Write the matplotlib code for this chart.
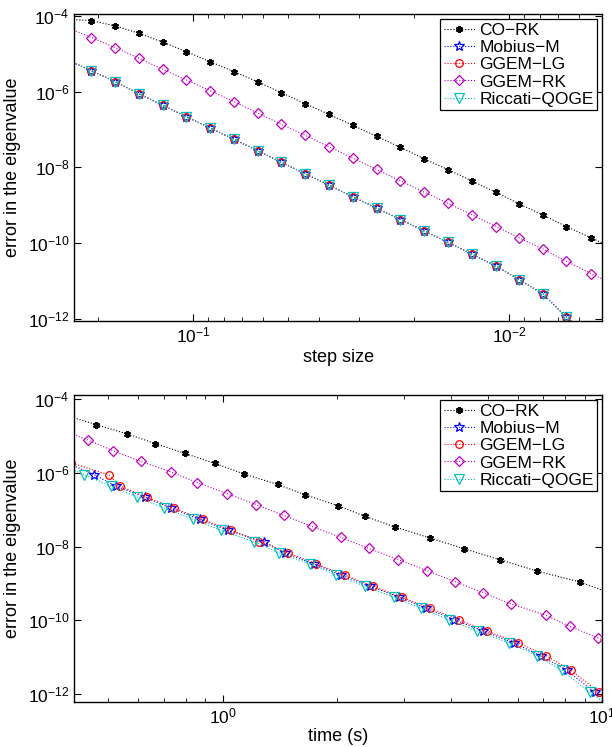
import numpy as np
import matplotlib.pyplot as plt
from matplotlib.ticker import LogLocator, LogFormatterSciNotation, NullLocator

plt.rcParams['font.family'] = ['Liberation Sans', 'DejaVu Sans']
plt.rcParams['mathtext.fontset'] = 'custom'
plt.rcParams['mathtext.rm'] = 'Liberation Sans'
plt.rcParams['mathtext.default'] = 'regular'

# step sizes (top panel), the first and last ones fall just outside the axes
step = [0.2500, 0.2102, 0.1768, 0.1487, 0.1250, 0.1051, 0.0884, 0.0743,
        0.0625, 0.0526, 0.0442, 0.0372, 0.03125, 0.0263, 0.0221, 0.0186,
        0.0156, 0.0131, 0.0110, 0.0093, 0.0078, 0.0066, 0.0055, 0.0046]

# errors in the eigenvalue
err_cork = [8.1e-5, 7.55e-5, 5.47e-5, 3.51e-5, 2.03e-5, 1.14e-5, 6.22e-6, 3.38e-6,
            1.81e-6, 9.4e-7, 4.82e-7, 2.52e-7, 1.29e-7, 6.6e-8, 3.38e-8, 1.69e-8,
            8.65e-9, 4.35e-9, 2.18e-9, 1.09e-9, 5.47e-10, 2.75e-10, 1.37e-10, 6.9e-11]
err_ggemrk = [4.9e-5, 2.69e-5, 1.46e-5, 7.66e-6, 3.92e-6, 2.04e-6, 1.06e-6, 5.43e-7,
              2.73e-7, 1.37e-7, 7.03e-8, 3.51e-8, 1.76e-8, 8.85e-9, 4.42e-9, 2.22e-9,
              1.12e-9, 5.57e-10, 2.75e-10, 1.37e-10, 6.9e-11, 3.32e-11, 1.57e-11, 7.6e-12]
# Mobius-M, GGEM-LG and Riccati-QOGE give (visually) the same errors
err_qoge = [6.8e-6, 3.60e-6, 1.84e-6, 8.85e-7, 4.37e-7, 2.18e-7, 1.10e-7, 5.51e-8,
            2.75e-8, 1.36e-8, 6.77e-9, 3.40e-9, 1.67e-9, 8.38e-10, 4.21e-10, 2.10e-10,
            1.04e-10, 5.08e-11, 2.45e-11, 1.09e-11, 4.45e-12, 1.12e-12, 3e-13, 1e-13]

# cpu times (bottom panel)
t_cork = [0.235, 0.28, 0.33, 0.39, 0.465, 0.560, 0.665, 0.794, 0.953, 1.136, 1.396, 1.652,
          2.010, 2.373, 2.852, 3.527, 4.336, 5.395, 6.713, 8.73, 10.5, 12.7, 15.3, 18.5]
t_mobius = [0.28, 0.33, 0.39, 0.459, 0.524, 0.623, 0.732, 0.870, 1.033, 1.288, 1.457, 1.738,
            2.051, 2.451, 2.923, 3.443, 4.080, 4.857, 5.848, 6.879, 8.053, 9.544, 11.3, 13.4]
t_ggemlg = [0.30, 0.35, 0.40, 0.501, 0.538, 0.632, 0.746, 0.886, 1.054, 1.249, 1.487, 1.763,
            2.097, 2.496, 2.971, 3.527, 4.188, 4.977, 6.006, 7.119, 8.250, 9.795, 11.6, 13.7]
t_ggemrk = [0.27, 0.32, 0.38, 0.443, 0.516, 0.609, 0.731, 0.858, 1.027, 1.227, 1.448, 1.720,
            2.051, 2.431, 2.900, 3.457, 4.088, 4.858, 5.767, 7.089, 8.201, 9.737, 11.6, 13.9]
t_riccati = [0.26, 0.31, 0.37, 0.432, 0.508, 0.597, 0.703, 0.836, 0.992, 1.207, 1.405, 1.696,
             1.994, 2.367, 2.823, 3.341, 3.942, 4.684, 5.673, 6.743, 7.812, 9.259, 11.0, 13.0]

names = ['CO\u2212RK', 'Mobius\u2212M', 'GGEM\u2212LG', 'GGEM\u2212RK', 'Riccati\u2212QOGE']
colors = ['k', 'b', 'r', 'm', 'c']
markers = [(6, 2, 0), '*', 'o', 'D', 'v']
msizes = [5, 7, 5.5, 5.5, 6.5]

fig = plt.figure(figsize=(6.12, 7.47), dpi=100)
ax1 = fig.add_axes([0.1214, 0.5703, 0.8627, 0.411])
ax2 = fig.add_axes([0.1214, 0.0606, 0.8627, 0.4106])

top_y = [err_cork, err_qoge, err_qoge, err_ggemrk, err_qoge]
bot_x = [t_cork, t_mobius, t_ggemlg, t_ggemrk, t_riccati]

for i in range(5):
    mew = 1.5 if i == 0 else 0.9
    ax1.loglog(step, top_y[i], linestyle=':', linewidth=0.8, color=colors[i],
               marker=markers[i], markersize=msizes[i], mfc='none', mew=mew, label=names[i])
    ax2.loglog(bot_x[i], top_y[i], linestyle=':', linewidth=0.8, color=colors[i],
               marker=markers[i], markersize=msizes[i], mfc='none', mew=mew, label=names[i])

ax1.set_xlim(0.238, 0.00508)
ax1.set_ylim(10**-12.056, 10**-3.947)
ax2.set_xlim(0.407, 10)
ax2.set_ylim(10**-12.21, 10**-3.89)

for ax in (ax1, ax2):
    ax.set_yticks([1e-12, 1e-10, 1e-8, 1e-6, 1e-4])
    ax.yaxis.set_major_formatter(LogFormatterSciNotation())
    ax.yaxis.set_minor_locator(NullLocator())
    ax.xaxis.set_major_locator(LogLocator(base=10))
    ax.xaxis.set_minor_locator(LogLocator(base=10, subs=np.arange(2, 10)))
    ax.tick_params(which='both', direction='in', top=True, right=True, labelsize=12.5)
    ax.tick_params(which='major', length=5, width=0.8)
    ax.tick_params(which='minor', length=3, width=0.6)
    for s in ax.spines.values():
        s.set_linewidth(1.0)
    ax.set_ylabel('error in the eigenvalue', fontsize=13)
    leg = ax.legend(loc='upper right', fontsize=12.5, frameon=True, fancybox=False,
                    framealpha=1, edgecolor='k', labelspacing=0.12, handlelength=1.8,
                    handletextpad=0.25, borderpad=0.2, borderaxespad=0.3)
    leg.get_frame().set_linewidth(0.9)

ax1.set_xlabel('step size', fontsize=13, labelpad=2)
ax2.set_xlabel('time (s)', fontsize=13, labelpad=1)
ax1.yaxis.set_label_coords(-0.1, 0.5)
ax2.yaxis.set_label_coords(-0.1, 0.5)

plt.savefig('out.png', dpi=100)
